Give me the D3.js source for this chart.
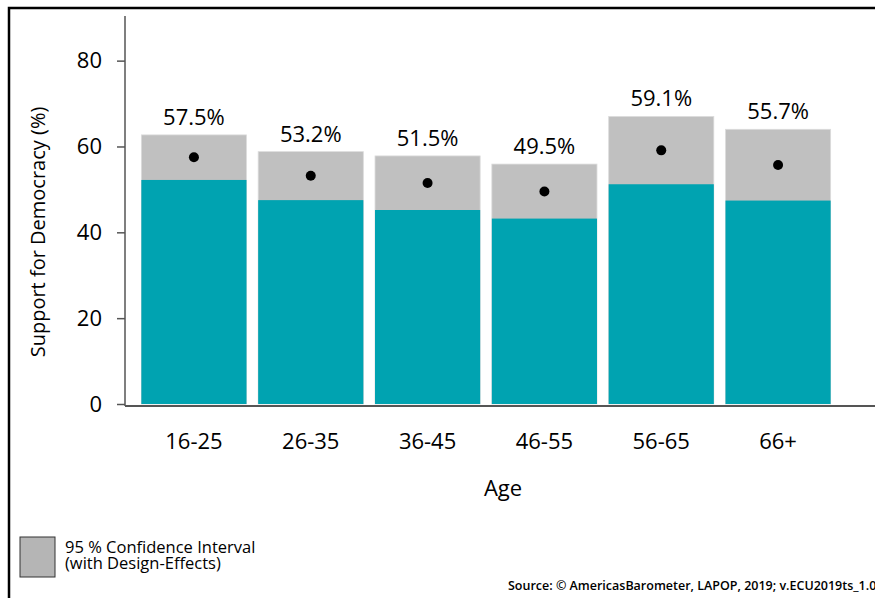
<!DOCTYPE html>
<html>
<head>
<meta charset="utf-8">
<script src="https://cdn.jsdelivr.net/npm/d3@7"></script>
<style>
  body { margin: 0; background: #fff; }
  text { font-family: "Open Sans", "Noto Sans", sans-serif; fill: #000; font-weight: 500; }
</style>
</head>
<body>
<script>
// data
const ageGroups = ["16-25", "26-35", "36-45", "46-55", "56-65", "66+"];
const meanValues = [57.5, 53.2, 51.5, 49.5, 59.1, 55.7];
const lowerCI = [52.2, 47.5, 45.2, 43.2, 51.2, 47.4];
const upperCI = [62.7, 58.8, 57.8, 55.9, 67.0, 64.0];
const yTicks = [0, 20, 40, 60, 80];

const data = ageGroups.map((g, i) => ({
  age: g, mean: meanValues[i], lo: lowerCI[i], hi: upperCI[i]
}));

let width = 875,
    height = 598;

let svg = d3.select('body')
  .append('svg')
    .attr('width', width)
    .attr('height', height);

// frame
svg.append('path')
  .attr('d', `M9,${height} V8 H${width}`)
  .attr('fill', 'none')
  .attr('stroke', '#000')
  .attr('stroke-width', 2.5);

let xScale = d3.scaleBand()
  .domain(ageGroups)
  .range([125, 847])
  .paddingInner(0.1)
  .paddingOuter(0.14);

let yScale = d3.scaleLinear()
  .domain([0, 90.4])
  .range([404, 16]);

// bars: grey confidence interval, teal up to the lower bound
svg.selectAll('rect.ci')
  .data(data)
  .enter()
  .append('rect')
    .attr('class', 'ci')
    .attr('x', d => xScale(d.age))
    .attr('y', d => yScale(d.hi))
    .attr('width', xScale.bandwidth())
    .attr('height', d => yScale(0) - yScale(d.hi))
    .attr('fill', '#c0c0c0')
    .attr('stroke', '#dcdcdc')
    .attr('stroke-width', 0.8);

svg.selectAll('rect.bar')
  .data(data)
  .enter()
  .append('rect')
    .attr('class', 'bar')
    .attr('x', d => xScale(d.age))
    .attr('y', d => yScale(d.lo))
    .attr('width', xScale.bandwidth())
    .attr('height', d => yScale(0) - yScale(d.lo))
    .attr('fill', '#00a3b1');

svg.selectAll('circle.mean')
  .data(data)
  .enter()
  .append('circle')
    .attr('cx', d => xScale(d.age) + xScale.bandwidth() / 2)
    .attr('cy', d => yScale(d.mean))
    .attr('r', 5)
    .attr('fill', '#000');

svg.selectAll('text.val')
  .data(data)
  .enter()
  .append('text')
    .attr('class', 'val')
    .attr('x', d => xScale(d.age) + xScale.bandwidth() / 2)
    .attr('y', d => yScale(d.hi) - 10)
    .attr('text-anchor', 'middle')
    .style('font-size', '22px')
    .text(d => d.mean.toFixed(1) + '%');

// y axis
let yAxis = svg.append('g')
  .attr('transform', 'translate(125,0)')
  .call(d3.axisLeft(yScale).tickValues(yTicks).tickSize(8).tickPadding(15));
yAxis.select('.domain')
  .attr('d', `M0,${yScale(0) + 2}V16`)
  .attr('stroke', '#555')
  .attr('stroke-width', 1.5);
yAxis.selectAll('.tick line').attr('stroke', '#555').attr('stroke-width', 1.5);
yAxis.selectAll('.tick text')
  .style('font-size', '22px')
  .style('font-family', '"Open Sans", sans-serif')
  .attr('fill', '#000');

// x axis
let xAxis = svg.append('g')
  .attr('transform', `translate(0,${yScale(0) + 2})`)
  .call(d3.axisBottom(xScale).tickSize(0).tickPadding(27));
xAxis.select('.domain')
  .attr('d', `M125,0H${width}`)
  .attr('stroke', '#555')
  .attr('stroke-width', 2);
xAxis.selectAll('.tick text')
  .style('font-size', '22px')
  .style('font-family', '"Open Sans", sans-serif')
  .attr('fill', '#000');

svg.append('text')
  .attr('x', 503)
  .attr('y', 496)
  .attr('text-anchor', 'middle')
  .style('font-size', '22px')
  .text('Age');

svg.append('text')
  .attr('transform', 'translate(45,232) rotate(-90)')
  .attr('text-anchor', 'middle')
  .style('font-size', '20px')
  .text('Support for Democracy (%)');

// legend
svg.append('rect')
  .attr('x', 20)
  .attr('y', 537)
  .attr('width', 35)
  .attr('height', 40)
  .attr('fill', '#b5b5b5')
  .attr('stroke', '#333')
  .attr('stroke-width', 1);

svg.append('text')
  .attr('x', 65)
  .attr('y', 553)
  .style('font-size', '16.5px')
  .text('95 % Confidence Interval');

svg.append('text')
  .attr('x', 65)
  .attr('y', 569)
  .style('font-size', '16.5px')
  .text('(with Design-Effects)');

svg.append('text')
  .attr('x', 508)
  .attr('y', 590)
  .style('font-size', '12.5px')
  .style('font-weight', 600)
  .text('Source: © AmericasBarometer, LAPOP, 2019; v.ECU2019ts_1.0');
</script>
</body>
</html>
